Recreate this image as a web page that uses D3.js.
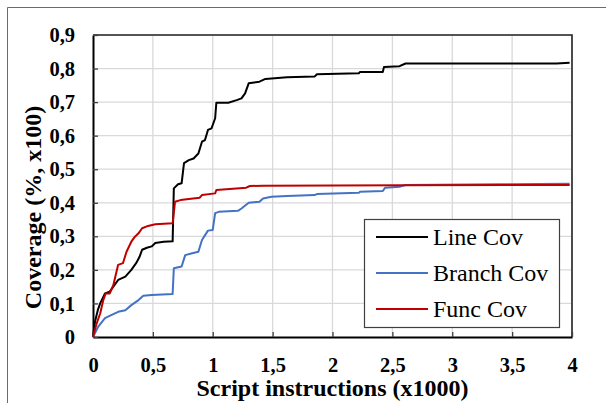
<!DOCTYPE html>
<html>
<head>
<meta charset="utf-8">
<title>Coverage</title>
<style type="text/css">
	body{
		margin: 0;
		background-color: #ffffff;
	}
	#chart text{
		font-family: "Liberation Serif", "Times New Roman", serif;
	}
</style>
</head>
<body>
<svg id="chart" width="606" height="403"></svg>

<script src="https://cdn.jsdelivr.net/npm/d3@7"></script>
<script type="text/javascript">
	// values, [x (x1000 instructions), coverage]
	let lineCov = [[0,0],[0.017,0.046],[0.04,0.08],[0.06,0.10],[0.08,0.115],[0.10,0.13],[0.14,0.135],[0.17,0.15],[0.21,0.17],[0.27,0.18],[0.32,0.20],[0.36,0.22],[0.39,0.24],[0.41,0.26],[0.45,0.266],[0.49,0.27],[0.52,0.28],[0.59,0.284],[0.665,0.285],[0.675,0.443],[0.71,0.455],[0.74,0.458],[0.76,0.518],[0.80,0.527],[0.84,0.532],[0.88,0.547],[0.91,0.582],[0.935,0.587],[0.96,0.617],[0.99,0.622],[1.02,0.652],[1.03,0.698],[1.13,0.698],[1.20,0.706],[1.24,0.711],[1.27,0.726],[1.30,0.756],[1.39,0.761],[1.44,0.769],[1.62,0.774],[1.85,0.776],[1.87,0.783],[2.22,0.786],[2.23,0.79],[2.42,0.79],[2.43,0.805],[2.56,0.807],[2.61,0.815],[3.87,0.815],[3.98,0.817]]
	let branchCov = [[0,0],[0.044,0.031],[0.10,0.056],[0.156,0.066],[0.21,0.075],[0.27,0.08],[0.32,0.095],[0.38,0.11],[0.42,0.123],[0.49,0.125],[0.665,0.128],[0.675,0.205],[0.74,0.21],[0.77,0.244],[0.82,0.249],[0.88,0.254],[0.91,0.289],[0.96,0.317],[1.0,0.319],[1.02,0.369],[1.05,0.373],[1.21,0.376],[1.24,0.383],[1.30,0.40],[1.39,0.403],[1.42,0.413],[1.49,0.418],[1.62,0.42],[1.85,0.423],[1.87,0.426],[2.22,0.43],[2.23,0.433],[2.42,0.435],[2.44,0.445],[2.56,0.448],[2.61,0.453],[3.4,0.455],[3.98,0.457]]
	let funcCov = [[0,0],[0.03,0.04],[0.06,0.07],[0.086,0.11],[0.106,0.13],[0.14,0.13],[0.17,0.155],[0.21,0.215],[0.25,0.22],[0.28,0.254],[0.32,0.284],[0.35,0.299],[0.38,0.309],[0.41,0.324],[0.46,0.331],[0.52,0.336],[0.665,0.339],[0.685,0.403],[0.73,0.408],[0.89,0.415],[0.91,0.423],[1.02,0.428],[1.03,0.438],[1.28,0.445],[1.31,0.45],[1.42,0.451],[2.6,0.452],[3.98,0.453]]

	let seriesNames = ["Line Cov", "Branch Cov", "Func Cov"]
	let seriesColors = ["#000000", "#4472c4", "#c00000"]
	let xTicks = [0, 0.5, 1, 1.5, 2, 2.5, 3, 3.5, 4]
	let yTicks = [0, 0.1, 0.2, 0.3, 0.4, 0.5, 0.6, 0.7, 0.8, 0.9]

	let svg = d3.select("#chart")
	let plotLeft = 93, plotTop = 35, plotRight = 572, plotBottom = 337

	let x = d3.scaleLinear().domain([0, 4]).range([plotLeft, plotRight])
	let y = d3.scaleLinear().domain([0, 0.9]).range([plotBottom, plotTop])
	let comma = d => String(d).replace(".", ",")

	// outer frame (only left and top edges show)
	svg.append("path").attr("d", "M7.5,403 V7.5 H606")
		.attr("fill", "none").attr("stroke", "#6b6b6b").attr("stroke-width", 1)

	// gridlines
	let grid = svg.append("g")
	grid.selectAll(".gy").data(yTicks.slice(1)).enter().append("line")
		.attr("x1", plotLeft).attr("x2", plotRight)
		.attr("y1", d => y(d)).attr("y2", d => y(d))
		.attr("stroke", "#d9d9d9").attr("stroke-width", 1.3)
	grid.selectAll(".gx").data(xTicks.slice(1)).enter().append("line")
		.attr("y1", plotTop).attr("y2", plotBottom)
		.attr("x1", d => x(d)).attr("x2", d => x(d))
		.attr("stroke", "#d9d9d9").attr("stroke-width", 1.3)

	// plot border
	svg.append("path").attr("d", `M${plotLeft},${plotTop} H${plotRight} V${plotBottom}`)
		.attr("fill", "none").attr("stroke", "#262626").attr("stroke-width", 1.6)

	// axes
	let xAxis = d3.axisBottom(x).tickValues(xTicks).tickFormat(comma)
		.tickSizeInner(-5).tickSizeOuter(0).tickPadding(20)
	let gx = svg.append("g").attr("transform", `translate(0,${plotBottom})`).call(xAxis)
	let yAxis = d3.axisLeft(y).tickValues(yTicks).tickFormat(comma)
		.tickSizeInner(-5).tickSizeOuter(0).tickPadding(18)
	let gy = svg.append("g").attr("transform", `translate(${plotLeft},0)`).call(yAxis)

	for (let g of [gx, gy]) {
		g.select(".domain").attr("stroke", "#000").attr("stroke-width", 2)
		g.selectAll(".tick line").attr("stroke", "#404040").attr("stroke-width", 1.3)
		g.selectAll("text").attr("font-size", "20.5px").attr("font-weight", "bold")
			.attr("fill", "#000")
			.style("font-family", "'Liberation Serif', 'Times New Roman', serif")
	}

	// series
	let line = d3.line().x(d => x(d[0])).y(d => y(d[1]))
	let allSeries = [lineCov, branchCov, funcCov]
	svg.selectAll(".series").data(allSeries).enter().append("path")
		.attr("d", line)
		.attr("fill", "none")
		.attr("stroke", (d, i) => seriesColors[i])
		.attr("stroke-width", 2)
		.attr("stroke-linejoin", "round")

	// axis titles
	svg.append("text").text("Script instructions (x1000)")
		.attr("x", (plotLeft + plotRight) / 2).attr("y", 396)
		.attr("text-anchor", "middle").attr("font-size", "24px").attr("font-weight", "bold")
	svg.append("text").text("Coverage (%, x100)")
		.attr("text-anchor", "middle").attr("font-size", "24px").attr("font-weight", "bold")
		.attr("transform", "translate(41,207.5) rotate(-90)")

	// legend
	let legend = svg.append("g")
	legend.append("rect").attr("x", 364.5).attr("y", 219.5).attr("width", 195).attr("height", 108)
		.attr("fill", "#fff").attr("stroke", "#404040").attr("stroke-width", 1.2)
	let entries = legend.selectAll(".entry").data(seriesNames).enter().append("g")
		.attr("transform", (d, i) => `translate(0,${237 + i * 36})`)
	entries.append("line").attr("x1", 376).attr("x2", 428)
		.attr("stroke", (d, i) => seriesColors[i]).attr("stroke-width", 2)
	entries.append("text").text(d => d).attr("x", 433)
		.attr("dominant-baseline", "central").attr("font-size", "24px")
</script>
</body>
</html>
